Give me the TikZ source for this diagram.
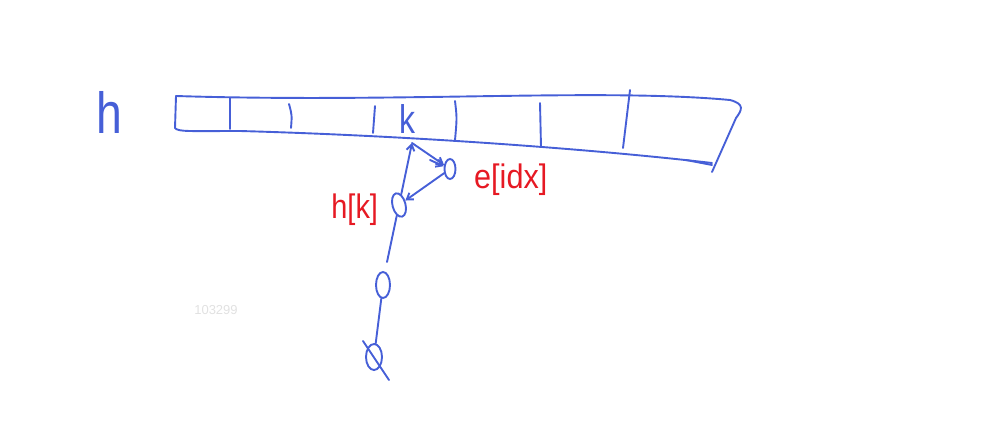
\documentclass[tikz,border=0pt]{standalone}
\usepackage{fontspec}
\setsansfont{Liberation Sans}
\usetikzlibrary{arrows.meta,shapes.geometric}
\definecolor{pen}{RGB}{70,95,215}
\definecolor{redpen}{RGB}{230,25,35}
\definecolor{wm}{RGB}{225,225,225}
\tikzset{
  stroke/.style={pen, line width=1.9pt, line cap=round, line join=round},
  tip/.style={-{Straight Barb[length=6pt,width=8pt]}},
  cell/.style={ellipse, draw=pen, line width=1.9pt, inner sep=0pt},
  redlabel/.style={text=redpen, font=\sffamily\fontsize{34}{34}\selectfont},
}
\begin{document}
\begin{tikzpicture}[x=1pt,y=-1pt]
\useasboundingbox (0,0) rectangle (1000,447);
% label h
\node[text=pen, font=\sffamily\fontsize{58}{58}\selectfont, xscale=0.8] (hlab) at (109,112) {h};
% array
\draw[stroke] (176,96) .. controls (400,103) and (600,88) .. (730,100)
  .. controls (745,104) and (742,110) .. (736,118) -- (712,172);
\draw[stroke] (176,96) -- (175,128) .. controls (178,132) and (190,131) .. (240,131)
  .. controls (420,136) and (600,150) .. (712,163);
\draw[stroke] (686,160) -- (712,165);
\draw[stroke] (230,98) -- (230,129);
\draw[stroke] (289,104) .. controls (292,115) .. (291,128);
\draw[stroke] (375,106) -- (373,133);
\draw[stroke] (455,101) .. controls (457,118) .. (455,140);
\draw[stroke] (540,103) -- (541,147);
\draw[stroke] (630,90) -- (623,148);
\node[text=pen, font=\sffamily\fontsize{40}{40}\selectfont, xscale=0.8, anchor=base west, inner sep=0pt] (k) at (399,133) {k};
\coordinate (ktop) at (412,143);
% nodes
\node[cell, minimum width=11pt, minimum height=20pt] (e) at (450,169) {};
\node[cell, minimum width=13pt, minimum height=24pt, rotate=15] (hk) at (399,205) {};
\node[cell, minimum width=14pt, minimum height=26pt] (n2) at (383,285) {};
\node[cell, minimum width=16pt, minimum height=26pt] (n3) at (374,357) {};
% connectors
\draw[stroke, tip] (ktop) -- (e);
\draw[stroke, tip] (430,160) -- (e);
\draw[stroke, tip] (e) -- (hk);
\draw[stroke, tip] (hk) -- (ktop);
\draw[stroke] (hk) -- (387,262);
\draw[stroke] (n2) -- (n3);
\draw[stroke] (363,341) -- (389,380);
% red labels
\node[redlabel, anchor=east, xscale=0.85] (hklab) at (381,210) {h[k]};
\node[redlabel, anchor=west, xscale=0.9] (elab) at (471,180) {e[idx]};
% watermark
\node[text=wm, font=\sffamily\fontsize{13}{13}\selectfont] (wmk) at (216,310) {103299};
\end{tikzpicture}
\end{document}
